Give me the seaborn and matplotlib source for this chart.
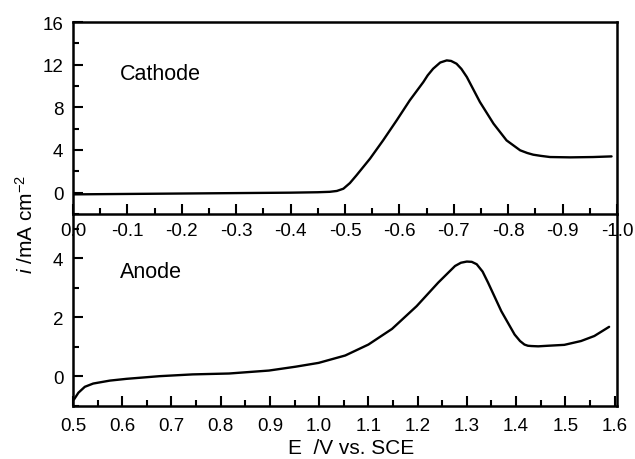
import numpy as np
import pandas as pd
import matplotlib
matplotlib.use("Agg")
import matplotlib.pyplot as plt
from matplotlib.ticker import MultipleLocator, FormatStrFormatter
import seaborn as sns

# Cathode scan (E in V vs SCE, i in mA cm^-2)
cathode_E = [0.0, -0.1, -0.2, -0.3, -0.4, -0.45, -0.472, -0.485, -0.497, -0.509, -0.521,
             -0.546, -0.570, -0.595, -0.619, -0.644, -0.652, -0.662, -0.675, -0.687,
             -0.695, -0.705, -0.714, -0.724, -0.748, -0.773, -0.797, -0.822, -0.835,
             -0.846, -0.86, -0.877, -0.914, -0.956, -0.990]
cathode_i = [-0.16, -0.12, -0.08, -0.04, 0.0, 0.04, 0.08, 0.16, 0.37, 0.9, 1.62,
             3.19, 4.9, 6.78, 8.65, 10.37, 11.0, 11.62, 12.2, 12.4,
             12.35, 12.09, 11.6, 10.84, 8.5, 6.47, 4.9, 3.97, 3.72,
             3.56, 3.45, 3.34, 3.31, 3.34, 3.4]

# Anode scan
anode_E = [0.502, 0.511, 0.524, 0.541, 0.575, 0.609, 0.676, 0.743, 0.817, 0.898, 0.952,
           0.999, 1.053, 1.10, 1.148, 1.198, 1.242, 1.276, 1.288, 1.30, 1.31, 1.320,
           1.332, 1.343, 1.370, 1.397, 1.408, 1.417, 1.424, 1.431, 1.445, 1.465, 1.498,
           1.532, 1.559, 1.589]
anode_i = [-0.78, -0.55, -0.35, -0.24, -0.14, -0.08, 0.01, 0.07, 0.1, 0.20, 0.33,
           0.46, 0.71, 1.08, 1.61, 2.38, 3.18, 3.74, 3.85, 3.89, 3.88, 3.80,
           3.55, 3.18, 2.21, 1.42, 1.2, 1.08, 1.04, 1.03, 1.02, 1.04, 1.07,
           1.20, 1.37, 1.68]

sns.set_style("ticks")
plt.rcParams['font.family'] = ['Liberation Sans', 'DejaVu Sans']
plt.rcParams['text.color'] = 'black'
plt.rcParams['mathtext.fontset'] = 'custom'
plt.rcParams['mathtext.it'] = 'Liberation Sans:italic'
plt.rcParams['mathtext.rm'] = 'Liberation Sans'

W, H = 635, 460
fig = plt.figure(figsize=(W / 100, H / 100), dpi=100)
L, R = 73, 617
ax2 = fig.add_axes([L / W, (H - 407) / H, (R - L) / W, (407 - 215) / H])
ax1 = fig.add_axes([L / W, (H - 215) / H, (R - L) / W, (215 - 23) / H])
ax2.patch.set_visible(False)

cdf = pd.DataFrame({"E": cathode_E, "i": cathode_i})
adf = pd.DataFrame({"E": anode_E, "i": anode_i})
sns.lineplot(data=cdf, x="E", y="i", ax=ax1, color="black", lw=1.7, sort=False)
sns.lineplot(data=adf, x="E", y="i", ax=ax2, color="black", lw=1.7, sort=False)

ax1.set_xlim(0.0, -1.0)
ax1.set_ylim(-2, 16)
ax2.set_xlim(0.5, 1.605)
ax2.set_ylim(-1, 5.5)

for ax in (ax1, ax2):
    ax.set_xlabel("")
    ax.set_ylabel("")
    for s in ax.spines.values():
        s.set_linewidth(1.8)
        s.set_color("black")
    ax.tick_params(which="both", direction="in", top=False, right=False,
                   labelsize=13.5, colors="black")
    ax.tick_params(axis="y", pad=7)
    ax.tick_params(which="major", length=7, width=1.5)
    ax.tick_params(which="minor", length=4, width=1.5)

ax1.tick_params(axis="x", pad=5.5)
ax2.tick_params(axis="x", pad=8)
ax2.spines["top"].set_visible(False)

ax1.xaxis.set_major_locator(MultipleLocator(0.1))
ax1.xaxis.set_minor_locator(MultipleLocator(0.05))
ax1.xaxis.set_major_formatter(FormatStrFormatter("%.1f"))
ax1.yaxis.set_major_locator(MultipleLocator(4))
ax1.yaxis.set_minor_locator(MultipleLocator(2))

ax2.xaxis.set_major_locator(MultipleLocator(0.1))
ax2.xaxis.set_minor_locator(MultipleLocator(0.05))
ax2.xaxis.set_major_formatter(FormatStrFormatter("%.1f"))
ax2.yaxis.set_major_locator(MultipleLocator(2))
ax2.yaxis.set_minor_locator(MultipleLocator(1))
ax2.set_yticks([0, 2, 4])

ax1.text(47 / 544, 1 - (75 - 23) / 192, "Cathode", transform=ax1.transAxes,
         fontsize=15.5, ha="left", va="center", color="black")
ax2.text(47 / 544, 1 - (272 - 215) / 192, "Anode", transform=ax2.transAxes,
         fontsize=15.5, ha="left", va="center", color="black")

fig.text(26 / W, 1 - 224 / H, r"$i$ /mA cm$^{-2}$", rotation=90, fontsize=15,
         ha="center", va="center", color="black")
fig.text(351 / W, 1 - 449 / H, "E  /V vs. SCE", fontsize=15, ha="center", va="center",
         color="black")

fig.savefig("out.png", dpi=100)
